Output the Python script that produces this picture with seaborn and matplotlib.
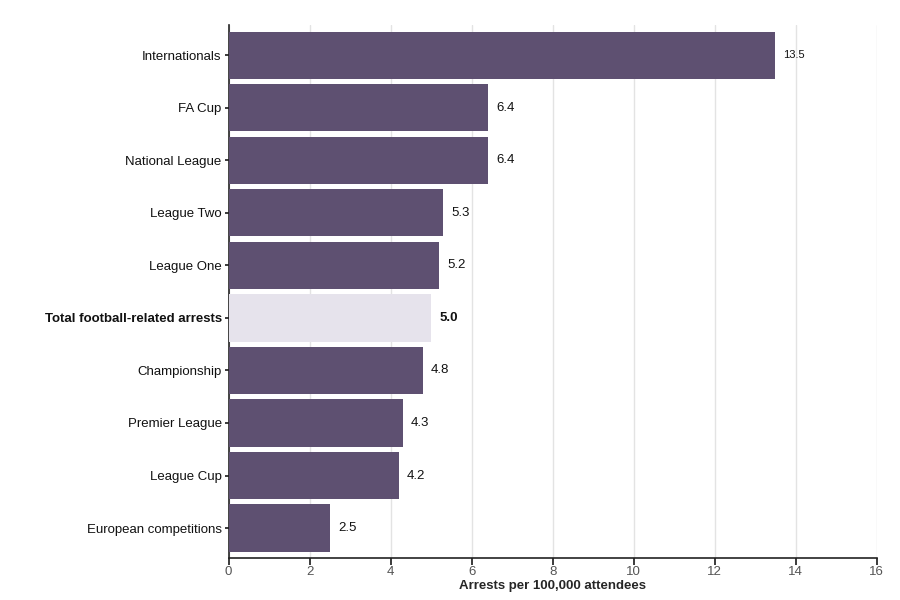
import matplotlib
matplotlib.use("Agg")
import matplotlib.pyplot as plt
import pandas as pd
import seaborn as sns

CATEGORIES = [
    "Internationals", "FA Cup", "National League", "League Two", "League One",
    "Total football-related arrests", "Championship", "Premier League",
    "League Cup", "European competitions",
]
VALUES = [13.5, 6.4, 6.4, 5.3, 5.2, 5.0, 4.8, 4.3, 4.2, 2.5]
HIGHLIGHT = "Total football-related arrests"

DARK = "#5D4A77"
LIGHT = "#E6E1EE"

sns.set_theme(style="white")
plt.rcParams["font.family"] = ["Liberation Sans", "DejaVu Sans"]

df = pd.DataFrame({"cat": CATEGORIES, "val": VALUES})
df["kind"] = ["total" if c == HIGHLIGHT else "comp" for c in CATEGORIES]

fig = plt.figure(figsize=(9, 6), dpi=100)
ax = fig.add_axes([0.254, 0.07, 0.72, 0.888])

sns.barplot(data=df, y="cat", x="val", hue="kind", order=CATEGORIES,
            palette={"comp": DARK, "total": LIGHT}, dodge=False, width=0.9,
            legend=False, ax=ax, zorder=3, edgecolor="none")

ax.set_xlim(0, 16)
ax.set_ylim(len(CATEGORIES) - 0.43, -0.57)
ax.set_xticks(range(0, 17, 2))
ax.xaxis.grid(True, color="#E3E3E3", linewidth=1, zorder=0)
ax.set_axisbelow(True)
for s in ["top", "right"]:
    ax.spines[s].set_visible(False)
for s in ["left", "bottom"]:
    ax.spines[s].set_color("#222222")
    ax.spines[s].set_linewidth(1.2)

ax.tick_params(axis="x", length=5, color="#222222", labelsize=9.5,
               labelcolor="#555555", bottom=True, pad=1)
ax.tick_params(axis="y", length=3, color="#222222", labelsize=9.5,
               labelcolor="#111111", left=True, pad=2)
ax.set_ylabel("")
ax.set_xlabel("Arrests per 100,000 attendees", fontsize=9.5, fontweight="bold",
              labelpad=1)

for lbl in ax.get_yticklabels():
    if lbl.get_text() == HIGHLIGHT:
        lbl.set_fontweight("bold")

for i, (c, v) in enumerate(zip(CATEGORIES, VALUES)):
    ax.text(v + 0.2, i, f"{v:.1f}", va="center", ha="left",
            fontsize=9.5 if v < 10 else 8,
            fontweight="bold" if c == HIGHLIGHT else "normal",
            color="#111111")

fig.savefig("out.png", dpi=100)
